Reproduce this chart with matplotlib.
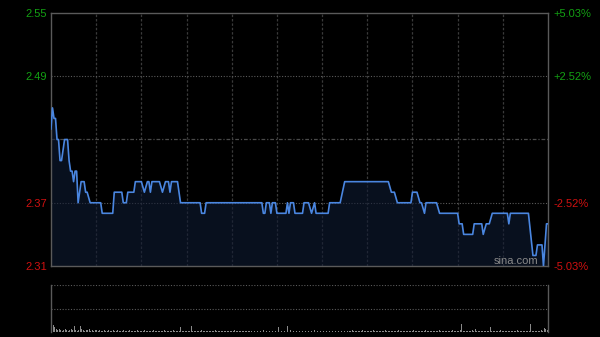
import matplotlib
matplotlib.use("Agg")
import matplotlib.pyplot as plt
import numpy as np

plt.rcParams['font.family'] = ['Liberation Sans', 'DejaVu Sans']

# ---- data ----
# minute index from open (0..330) and price at that minute
minutes = [0, 1, 2, 3, 4, 5, 6, 7, 8, 9, 11, 12, 13, 14, 15, 16, 17, 18, 19, 20, 22, 23, 24, 26,
           33, 34, 41, 42, 47, 48, 50, 51, 55, 56, 60, 62, 64, 65, 66, 67, 72, 74, 76, 78, 79, 80, 84,
           86, 99, 100, 102, 103, 140, 141, 142, 143, 145, 146, 147, 149, 150, 156, 157, 158, 159, 161,
           162, 167, 168, 171, 173, 175, 176, 184, 185, 192, 195, 224, 226, 228, 230,
           232, 239, 240, 243, 245, 246, 248, 249, 256, 258, 270, 271, 273, 274, 280, 281, 286, 287,
           289, 291, 293, 303, 304, 305, 317, 320, 322, 323, 326, 327, 329, 330]
prices = [2.44, 2.46, 2.45, 2.45, 2.43, 2.43, 2.41, 2.41, 2.42, 2.43, 2.43, 2.41, 2.40, 2.40, 2.39, 2.40, 2.40, 2.37, 2.38, 2.39, 2.39, 2.38, 2.38, 2.37,
          2.37, 2.36, 2.36, 2.38, 2.38, 2.37, 2.37, 2.38, 2.38, 2.39, 2.39, 2.38, 2.39, 2.39, 2.38, 2.39, 2.39, 2.38, 2.39, 2.39, 2.38, 2.39, 2.39,
          2.37, 2.37, 2.36, 2.36, 2.37, 2.37, 2.36, 2.36, 2.37, 2.37, 2.36, 2.37, 2.37, 2.36, 2.36, 2.37, 2.36, 2.37, 2.37,
          2.36, 2.36, 2.37, 2.37, 2.36, 2.37, 2.36, 2.36, 2.37, 2.37, 2.39, 2.39, 2.38, 2.38, 2.37,
          2.37, 2.37, 2.38, 2.38, 2.37, 2.37, 2.36, 2.37, 2.37, 2.36, 2.36, 2.35, 2.35, 2.34, 2.34, 2.35, 2.35, 2.34,
          2.35, 2.35, 2.36, 2.36, 2.35, 2.36, 2.36, 2.32, 2.32, 2.33, 2.33, 2.31, 2.35, 2.35]

volumes = [8, 7, 5, 3, 2, 3, 2, 1, 2, 3, 2, 1, 2, 3, 2, 6, 2, 1, 2, 6, 3, 2, 1, 2, 2, 3, 1, 2, 1, 2,
           2, 1, 2, 1, 1, 2, 1, 1, 2, 1, 1, 2, 1, 1, 2, 1, 1, 1, 2, 1, 1, 1, 2, 1, 1, 1, 1, 2, 1, 1,
           1, 1, 2, 1, 1, 1, 1, 1, 2, 1, 1, 1, 1, 1, 1, 2, 1, 1, 1, 1, 1, 2, 1, 1, 1, 1, 5, 1, 1, 1,
           1, 1, 1, 6, 1, 1, 1, 1, 1, 1, 2, 1, 1, 1, 1, 1, 1, 1, 1, 2, 1, 1, 1, 1, 1, 1, 1, 1, 1, 1,
           1, 1, 2, 1, 1, 1, 1, 1, 1, 1, 1, 1, 1, 1, 1, 1, 2, 1, 1, 1, 1, 2, 1, 1, 1, 1, 2, 1, 1, 1,
           1, 5, 1, 1, 1, 1, 1, 6, 5, 2, 1, 1, 1, 1, 1, 1, 1, 1, 2, 1, 1, 1, 1, 1, 1, 2, 1, 1, 1, 1,
           1, 1, 1, 1, 1, 1, 2, 1, 1, 1, 1, 1, 1, 1, 3, 1, 1, 1, 1, 1, 2, 1, 1, 1, 1, 1, 1, 2, 1, 1,
           1, 1, 1, 1, 2, 1, 1, 1, 1, 1, 1, 1, 2, 1, 1, 1, 1, 1, 1, 1, 1, 2, 1, 1, 1, 1, 1, 1, 1, 1,
           1, 2, 1, 1, 1, 1, 1, 1, 1, 2, 1, 1, 1, 1, 1, 1, 1, 1, 2, 1, 1, 1, 1, 1, 1, 1, 1, 2, 1, 1,
           1, 1, 2, 8, 1, 1, 1, 1, 1, 1, 2, 1, 3, 1, 1, 1, 1, 1, 1, 1, 1, 1, 5, 1, 1, 1, 1, 1, 1, 2,
           1, 1, 1, 1, 1, 1, 1, 1, 1, 1, 2, 1, 1, 1, 1, 1, 1, 1, 1, 8, 1, 1, 1, 1, 1, 1, 2, 1, 4, 3, 2]

prev_close = 2.43
left_ticks = [2.55, 2.49, 2.37, 2.31]
left_labels = ["2.55", "2.49", "2.37", "2.31"]
right_labels = ["+5.03%", "+2.52%", "-2.52%", "-5.03%"]
vgrid_minutes = [30, 60, 90, 120, 150, 180, 210, 240, 270, 300]

GREEN = "#13a013"
RED = "#d01010"
BG = "#000000"
SPINE = "#5a5a5a"

fig = plt.figure(figsize=(6.0, 3.37), dpi=100, facecolor=BG)
ax = fig.add_axes([51/600, 1-266/337, 497/600, 253/337], facecolor=BG)
axv = fig.add_axes([51/600, 1-332/337, 497/600, 47/337], facecolor=BG)

ax.set_xlim(0, 330)
ax.set_ylim(2.31, 2.55)

# grid
for m in vgrid_minutes:
    ax.axvline(m, color="#3a3a3a", lw=0.9, ls=(0, (2, 1.5)), zorder=1)
for t in [2.49, 2.37]:
    ax.axhline(t, color="#5a5a5a", lw=0.8, ls=(0, (1, 1.5)), zorder=1)
ax.axhline(prev_close, color="#4a4a4a", lw=0.9, ls=(0, (3, 1.5, 1, 1.5)), zorder=1)

# price line with fill
ax.fill_between(minutes, prices, 2.31, color="#0f1b33", alpha=0.6, lw=0, zorder=2)
ax.plot(minutes, prices, color="#4a86e0", lw=1.2, zorder=3, solid_joinstyle="round")

for s in ax.spines.values():
    s.set_color(SPINE)
    s.set_linewidth(1.0)

ax.set_xticks([])
ax.set_yticks(left_ticks)
ax.set_yticklabels(left_labels)
ax.tick_params(axis="y", length=0, pad=3, labelsize=8)
for lbl, v in zip(ax.get_yticklabels(), left_ticks):
    lbl.set_color(GREEN if v > prev_close else RED)

axr = ax.twinx()
axr.set_ylim(2.31, 2.55)
axr.set_yticks(left_ticks)
axr.set_yticklabels(right_labels)
axr.tick_params(axis="y", length=0, pad=4, labelsize=8)
for lbl, v in zip(axr.get_yticklabels(), left_ticks):
    lbl.set_color(GREEN if v > prev_close else RED)
for s in axr.spines.values():
    s.set_visible(False)

ax.text(0.98, 0.0, "sina.com", transform=ax.transAxes, ha="right", va="bottom",
        color="#8a8a8a", fontsize=8, zorder=4)

# volume
axv.set_xlim(-0.5, 330.5)
axv.set_ylim(0, 47)
axv.bar(np.arange(len(volumes)), volumes, width=0.6, color="#8a8a8a", lw=0)
axv.axhline(47, color="#5a5a5a", lw=0.8, ls=(0, (1, 1.5)))
axv.axhline(23.5, color="#5a5a5a", lw=0.8, ls=(0, (1, 1.5)))
axv.set_xticks([])
axv.set_yticks([])
for k in ["top", "bottom"]:
    axv.spines[k].set_visible(False)
for k in ["left", "right"]:
    axv.spines[k].set_color(SPINE)
    axv.spines[k].set_linewidth(1.0)

fig.savefig("out.png", dpi=100, facecolor=BG)
